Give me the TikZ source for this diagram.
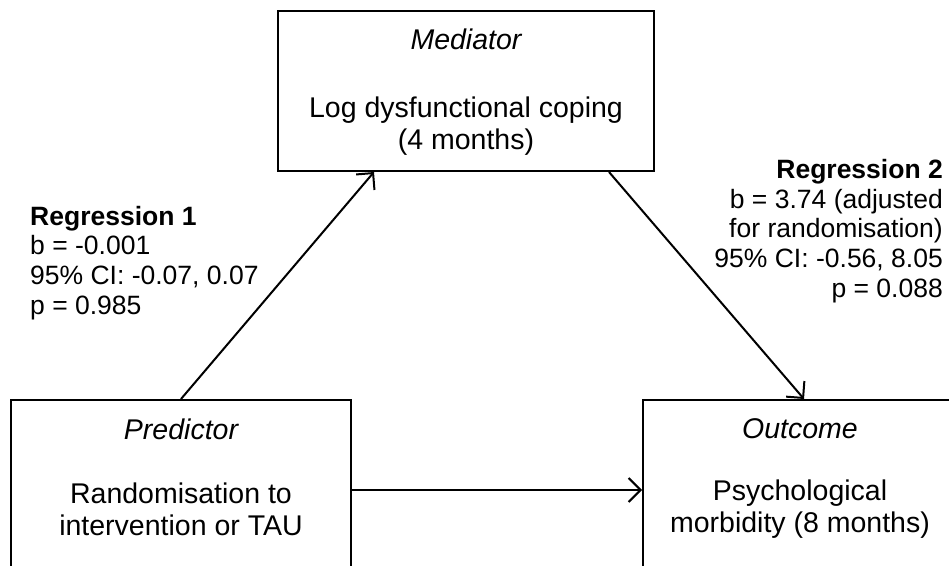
\documentclass[tikz,border=0pt]{standalone}
\usepackage{fontspec}
\setmainfont{Liberation Sans}
\usetikzlibrary{arrows.meta}

\begin{document}
\begin{tikzpicture}[x=1pt, y=-1pt,
        box/.style={draw, line width=2pt, anchor=north west, inner sep=0pt},
        txt/.style={font=\fontsize{28.5}{32}\selectfont, align=center, inner sep=0pt},
        ttl/.style={font=\fontsize{28.5}{32}\selectfont\itshape, inner sep=0pt},
        stat/.style={font=\fontsize{26.5}{29.8}\selectfont, inner sep=0pt},
        arr/.style={line width=2pt, -{Straight Barb[length=12pt, width=24pt]}}]
        \clip (0,0) rectangle (949,565);
        % boxes
        \node[box, minimum width=376, minimum height=160] (med) at (277,10) {};
        \node[box, minimum width=340, minimum height=180] (pred) at (10,399) {};
        \node[box, minimum width=322, minimum height=180] (out) at (642,399) {};
        % box texts
        \node[ttl] (medtitle) at ([yshift=-29]med.north) {Mediator};
        \node[txt] (medtext) at ([yshift=-116]med.north) {Log dysfunctional coping\\(4 months)};
        \node[ttl] (predtitle) at ([yshift=-30]pred.north) {Predictor};
        \node[txt] (predtext) at ([yshift=-110]pred.north) {Randomisation to\\intervention or TAU};
        \node[ttl] (outtitle) at ([yshift=-30,xshift=-4]out.north) {Outcome};
        \node[txt] (outtext) at ([yshift=-110,xshift=-4]out.north) {Psychological\\morbidity (8 months)};
        % regression results
        \node[stat, anchor=west, align=left] (reg1) at (30,263) {\textbf{Regression 1}\\b = -0.001\\95\% CI: -0.07, 0.07\\p = 0.985};
        \node[stat, anchor=east, align=right] (reg2) at (943,231) {\textbf{Regression 2}\\b = 3.74 (adjusted\\for randomisation)\\95\% CI: -0.56, 8.05\\p = 0.088};
        % paths
        \draw[arr] (pred.north) -- ([xshift=-92]med.south);
        \draw[arr] ([xshift=143]med.south) -- (out.north);
        \draw[arr] (pred.east) -- (out.west);
\end{tikzpicture}
\end{document}
